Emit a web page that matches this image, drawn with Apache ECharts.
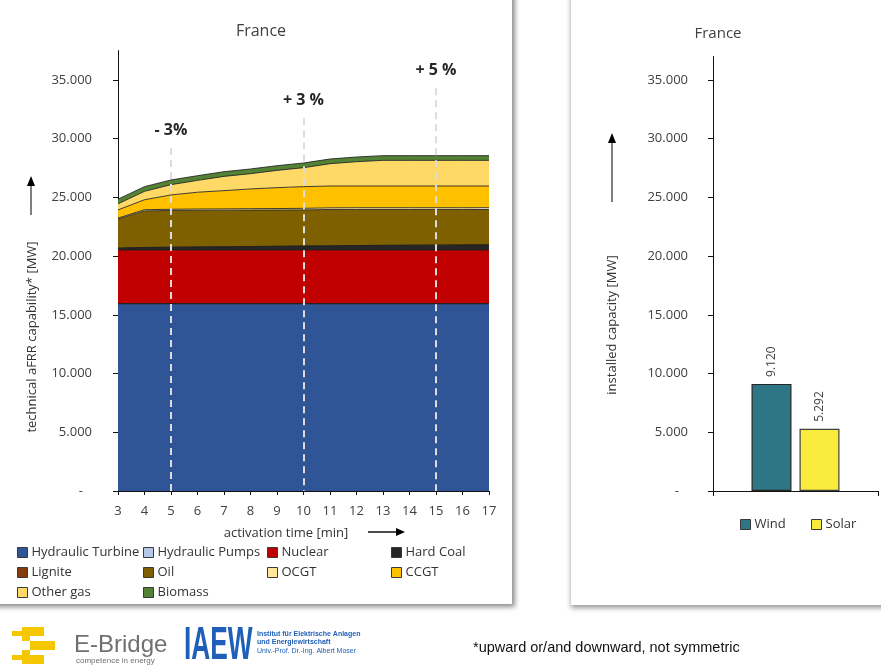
<!DOCTYPE html>
<html>
<head>
<meta charset="utf-8">
<script src="https://cdn.jsdelivr.net/npm/echarts@6/dist/echarts.min.js"></script>
<style>html,body{margin:0;padding:0;background:#fff}#c{width:881px;height:666px}</style>
</head>
<body>
<div id="c"></div>
<script>
const categories = ['3','4','5','6','7','8','9','10','11','12','13','14','15','16','17'];
const hydraulicTurbine = [15950,15950,15950,15950,15950,15950,15950,15950,15950,15950,15950,15950,15950,15950,15950];
const hydraulicPumps = [0,0,0,0,0,0,0,0,0,0,0,0,0,0,0];
const nuclear = [4575,4575,4575,4575,4575,4575,4575,4575,4575,4575,4575,4575,4575,4575,4575];
const hardCoal = [150,210,230,250,270,290,310,330,350,370,390,400,410,420,425];
const lignite = [0,0,0,0,0,0,0,0,0,0,0,0,0,0,0];
const oil = [2485,3115,3135,3125,3115,3105,3095,3085,3095,3075,3055,3045,3035,3025,3020];
const ocgt = [80,100,100,110,110,120,120,130,140,150,150,150,150,150,150];
const ccgt = [695,850,1220,1430,1555,1680,1780,1845,1860,1850,1850,1850,1850,1850,1850];
const otherGas = [515,715,875,1010,1215,1300,1470,1615,1900,2070,2185,2185,2185,2185,2185];
const biomass = [400,400,400,400,400,400,400,400,400,400,400,400,400,400,400];
const windCapacity = [9120];
const solarCapacity = [5292];
const yTicks = [0,5000,10000,15000,20000,25000,30000,35000];
const annotations = [
  {x: '5', top: 29200, text: '- 3%'},
  {x: '10', top: 31750, text: '+ 3 %'},
  {x: '15', top: 34300, text: '+ 5 %'}
];

const FONT = '"Open Sans", "Noto Sans", sans-serif';
const fmt = v => v === 0 ? '-' : String(v).replace(/\B(?=(\d{3})+(?!\d))/g, '.');

const layers = [
  ['Hydraulic Turbine', hydraulicTurbine, '#2F5597'],
  ['Hydraulic Pumps', hydraulicPumps, '#B4C7E7'],
  ['Nuclear', nuclear, '#C00000'],
  ['Hard Coal', hardCoal, '#262626'],
  ['Lignite', lignite, '#843C0C'],
  ['Oil', oil, '#7F6000'],
  ['OCGT', ocgt, '#FFE699'],
  ['CCGT', ccgt, '#FFC000'],
  ['Other gas', otherGas, '#FFD966'],
  ['Biomass', biomass, '#548235']
];

const series = layers.map((l, i) => ({
  name: l[0], type: 'line', stack: 'total', data: l[1],
  symbol: 'none', xAxisIndex: 0, yAxisIndex: 0, z: 2,
  itemStyle: {color: l[2]},
  lineStyle: {color: '#1e1e1e', width: 1, opacity: 0.85},
  areaStyle: {color: l[2], opacity: 1}
}));

series.push({
  type: 'line', data: [], xAxisIndex: 0, yAxisIndex: 0, z: 5,
  markLine: {
    silent: true, symbol: ['none', 'none'], animation: false,
    lineStyle: {color: '#dcdcdc', width: 2, type: [7, 5]},
    label: {show: true, position: 'start', distance: 10, formatter: '{b}',
      fontFamily: FONT, fontSize: 16, fontWeight: 'bold', color: '#262626'},
    data: annotations.map(a => [{name: a.text, coord: [a.x, a.top]}, {coord: [a.x, 0]}])
  }
});

series.push({
  name: 'Wind', type: 'bar', data: windCapacity, xAxisIndex: 1, yAxisIndex: 1,
  barWidth: 40, barGap: '20%',
  itemStyle: {color: '#2E7585', borderColor: '#262626', borderWidth: 1.2},
  label: {show: true, position: 'top', distance: 7, rotate: 90, align: 'left', verticalAlign: 'middle',
    formatter: p => fmt(p.value), fontFamily: FONT, fontSize: 12, color: '#404040'}
});
series.push({
  name: 'Solar', type: 'bar', data: solarCapacity, xAxisIndex: 1, yAxisIndex: 1,
  barWidth: 40,
  itemStyle: {color: '#F9EB3B', borderColor: '#404040', borderWidth: 1.2},
  label: {show: true, position: 'top', distance: 7, rotate: 90, align: 'left', verticalAlign: 'middle',
    formatter: p => fmt(p.value), fontFamily: FONT, fontSize: 12, color: '#404040'}
});

const legendPos = [
  ['Hydraulic Turbine', 17, 546], ['Hydraulic Pumps', 143, 546], ['Nuclear', 267, 546], ['Hard Coal', 391, 546],
  ['Lignite', 17, 566], ['Oil', 143, 566], ['OCGT', 267, 566], ['CCGT', 391, 566],
  ['Other gas', 17, 586], ['Biomass', 143, 586],
  ['Wind', 740, 518], ['Solar', 811, 518]
];
const legends = legendPos.map(p => ({
  data: [p[0]], left: p[1], top: p[2], padding: 0, itemWidth: 10, itemHeight: 10, itemGap: 0,
  icon: 'rect', selectedMode: false,
  itemStyle: {borderColor: '#3a3a3a', borderWidth: 1},
  textStyle: {fontFamily: FONT, fontSize: 13, color: '#333', padding: [0, 0, 0, -1]}
}));

const yAxisCommon = {
  type: 'value', min: 0, interval: 5000,
  splitLine: {show: false},
  axisLine: {show: true, lineStyle: {color: '#111', width: 1}},
  axisTick: {show: true, length: 5, lineStyle: {color: '#111'}, customValues: yTicks},
  axisLabel: {customValues: yTicks, fontFamily: FONT, fontSize: 13, color: '#404040',
    formatter: v => v === 0 ? '{d|-}' : fmt(v),
    rich: {d: {padding: [0, 9, 0, 0], fontFamily: FONT, fontSize: 13, color: '#404040'}}}
};

const graphics = [
  {type: 'rect', z: -10, shape: {x: -10, y: -10, width: 522, height: 614},
    style: {fill: '#fff', shadowBlur: 5, shadowOffsetX: 3, shadowOffsetY: 3, shadowColor: 'rgba(0,0,0,0.45)'}},
  {type: 'rect', z: -10, shape: {x: 571, y: -10, width: 330, height: 615},
    style: {fill: '#fff', shadowBlur: 5, shadowOffsetX: 0, shadowOffsetY: 3, shadowColor: 'rgba(0,0,0,0.4)'}},
  {type: 'text', z: 50, x: 261, y: 31, style: {text: 'France', font: '16px ' + FONT, fill: '#404040', align: 'center', verticalAlign: 'middle'}},
  {type: 'text', z: 50, x: 718, y: 34, style: {text: 'France', font: '15px ' + FONT, fill: '#404040', align: 'center', verticalAlign: 'middle'}},
  {type: 'text', z: 50, x: 32, y: 337, rotation: Math.PI / 2, style: {text: 'technical aFRR capability* [MW]', font: '13px ' + FONT, fill: '#333', align: 'center', verticalAlign: 'middle'}},
  {type: 'line', z: 50, shape: {x1: 31, y1: 215, x2: 31, y2: 185}, style: {stroke: '#555', lineWidth: 1.5}},
  {type: 'polygon', z: 50, shape: {points: [[27, 186], [35, 186], [31, 176]]}, style: {fill: '#000'}},
  {type: 'text', z: 50, x: 612, y: 325, rotation: Math.PI / 2, style: {text: 'installed capacity [MW]', font: '13px ' + FONT, fill: '#333', align: 'center', verticalAlign: 'middle'}},
  {type: 'line', z: 50, shape: {x1: 612, y1: 202, x2: 612, y2: 142}, style: {stroke: '#555', lineWidth: 1.5}},
  {type: 'polygon', z: 50, shape: {points: [[608, 143], [616, 143], [612, 133]]}, style: {fill: '#000'}},
  {type: 'text', z: 50, x: 286, y: 533, style: {text: 'activation time [min]', font: '13px ' + FONT, fill: '#333', align: 'center', verticalAlign: 'middle'}},
  {type: 'line', z: 50, shape: {x1: 368, y1: 532, x2: 397, y2: 532}, style: {stroke: '#111', lineWidth: 1.5}},
  {type: 'polygon', z: 50, shape: {points: [[396, 528], [396, 536], [405, 532]]}, style: {fill: '#000'}},
  // E-Bridge logo
  {type: 'rect', z: 50, shape: {x: 22, y: 627, width: 22, height: 9}, style: {fill: '#F4C700'}},
  {type: 'rect', z: 50, shape: {x: 12, y: 631, width: 10, height: 5}, style: {fill: '#F4C700'}},
  {type: 'rect', z: 50, shape: {x: 30, y: 641, width: 25, height: 9}, style: {fill: '#F4C700'}},
  {type: 'rect', z: 50, shape: {x: 22, y: 636, width: 8, height: 5}, style: {fill: '#F4C700'}},
  {type: 'rect', z: 50, shape: {x: 22, y: 650, width: 8, height: 5}, style: {fill: '#F4C700'}},
  {type: 'rect', z: 50, shape: {x: 22, y: 655, width: 22, height: 9}, style: {fill: '#F4C700'}},
  {type: 'rect', z: 50, shape: {x: 12, y: 655, width: 10, height: 5}, style: {fill: '#F4C700'}},
  {type: 'text', z: 50, x: 74, y: 645, style: {text: 'E-Bridge', font: '24px "Liberation Sans", Arial, sans-serif', fill: '#707070', align: 'left', verticalAlign: 'middle'}},
  {type: 'text', z: 50, x: 76, y: 661, style: {text: 'competence in energy', font: '8px "Liberation Sans", Arial, sans-serif', fill: '#707070', align: 'left', verticalAlign: 'middle'}},
  // IAEW logo
  {type: 'text', z: 50, x: 184, y: 646, scaleX: 0.57, style: {text: 'IAEW', font: 'bold 46px "Liberation Sans", Arial, sans-serif', fill: '#1F5FB8', align: 'left', verticalAlign: 'middle'}},
  {type: 'text', z: 50, x: 257, y: 634, style: {text: 'Institut für Elektrische Anlagen', font: 'bold 7px "Liberation Sans", Arial, sans-serif', fill: '#1F5FB8', align: 'left', verticalAlign: 'middle'}},
  {type: 'text', z: 50, x: 257, y: 642, style: {text: 'und Energiewirtschaft', font: 'bold 7px "Liberation Sans", Arial, sans-serif', fill: '#1F5FB8', align: 'left', verticalAlign: 'middle'}},
  {type: 'text', z: 50, x: 257, y: 651, style: {text: 'Univ.-Prof. Dr.-Ing. Albert Moser', font: '7px "Liberation Sans", Arial, sans-serif', fill: '#1F5FB8', align: 'left', verticalAlign: 'middle'}},
  {type: 'text', z: 50, x: 473, y: 648, style: {text: '*upward or/and downward, not symmetric', font: '14.5px "Liberation Sans", Arial, sans-serif', fill: '#111', align: 'left', verticalAlign: 'middle'}}
];

const chart = echarts.init(document.getElementById('c'), null, {renderer: 'canvas'});
chart.setOption({
  animation: false,
  backgroundColor: '#fff',
  graphic: {elements: graphics},
  legend: legends,
  grid: [
    {left: 118, right: 392, top: 50.6, bottom: 175},
    {left: 713, right: 3, top: 56.5, bottom: 175}
  ],
  xAxis: [
    {type: 'category', gridIndex: 0, data: categories, boundaryGap: false,
      axisLine: {lineStyle: {color: '#111'}},
      axisTick: {show: true, length: 4, interval: 0, lineStyle: {color: '#111'}},
      axisLabel: {interval: 0, margin: 14, fontFamily: FONT, fontSize: 13, color: '#404040'}},
    {type: 'category', gridIndex: 1, data: [''], boundaryGap: true,
      axisLine: {lineStyle: {color: '#111'}},
      axisTick: {show: true, length: 5, lineStyle: {color: '#111'}},
      axisLabel: {show: false}}
  ],
  yAxis: [
    Object.assign({}, yAxisCommon, {gridIndex: 0, max: 37500, axisLabel: Object.assign({}, yAxisCommon.axisLabel, {margin: 26})}),
    Object.assign({}, yAxisCommon, {gridIndex: 1, max: 37000, axisLabel: Object.assign({}, yAxisCommon.axisLabel, {margin: 25})})
  ],
  series: series
});
</script>
</body>
</html>
